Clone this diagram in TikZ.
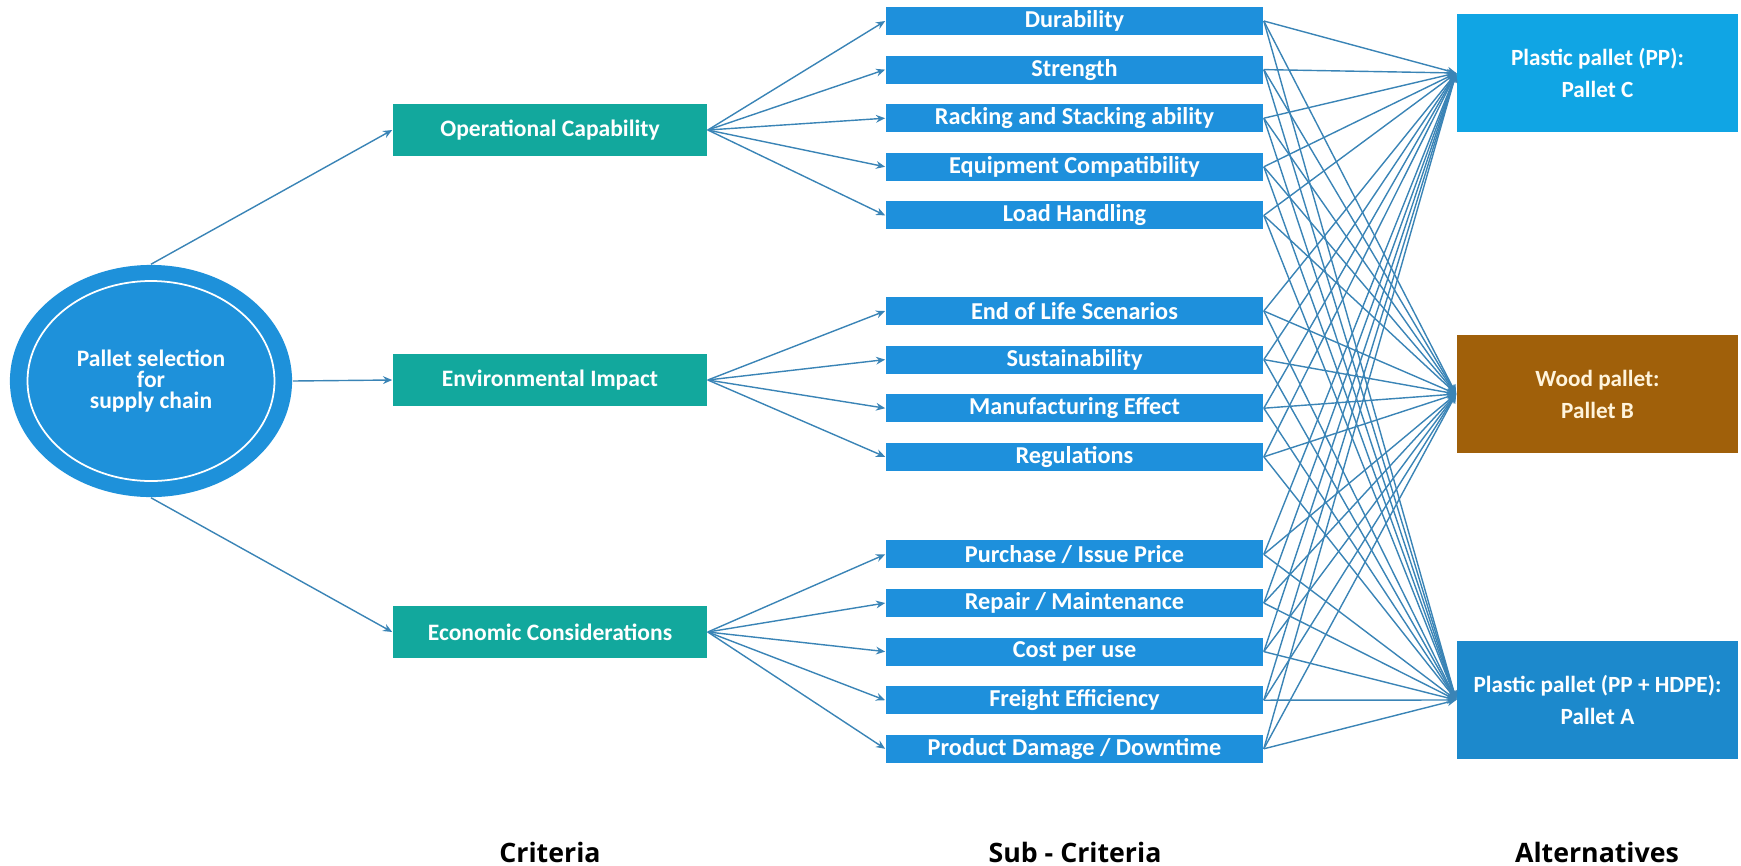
\documentclass[tikz,border=0pt]{standalone}
\usepackage{fontspec}
\setmainfont{Carlito}
\newfontfamily\titlefont{Open Sans}
\definecolor{teal}{HTML}{12A89D}
\definecolor{subblue}{HTML}{1E90DC}
\definecolor{rootblue}{HTML}{1E91DA}
\definecolor{altc}{HTML}{10A5E4}
\definecolor{altb}{HTML}{A0600A}
\definecolor{alta}{HTML}{1C89CC}
\definecolor{wire}{HTML}{3A84B6}
\definecolor{cream}{HTML}{FFF4DC}
\usetikzlibrary{shapes.geometric,arrows.meta}

\begin{document}
\begin{tikzpicture}[x=0.01cm, y=-0.01cm,
  crit/.style={rectangle, fill=teal, text=white, minimum width=3.14cm, minimum height=0.52cm, inner sep=0pt, font={\fontsize{6.7}{7.5}\selectfont\bfseries}},
  sub/.style={rectangle, fill=subblue, text=white, minimum width=3.77cm, minimum height=0.28cm, inner sep=0pt, font={\fontsize{6.9}{7.5}\selectfont\bfseries}},
  alt/.style={rectangle, text=white, minimum width=2.81cm, minimum height=1.18cm, align=center, font={\fontsize{6.6}{9.1}\selectfont\bfseries}},
  coltitle/.style={text=black, font={\titlefont\fontsize{7.6}{9}\selectfont\bfseries}},
  link/.style={draw=wire, line width=0.4pt, -{Stealth[length=2.6pt, width=2.2pt]}},
]
\useasboundingbox (0,0) rectangle (1741,866);
% goal
\node[ellipse, fill=rootblue, minimum width=2.82cm, minimum height=2.32cm, inner sep=0pt] (root) at (151,381) {};
\draw[white, line width=0.5pt] (root.center) ellipse (123.5 and 100);
\node[text=white, align=center, font={\fontsize{6.7}{5.9}\selectfont\bfseries}] at (root.center) {Pallet selection\\for\\supply chain};
% criteria
\node[crit] (op) at (550,130) {Operational Capability};
\node[crit] (env) at (550,380) {Environmental Impact};
\node[crit] (eco) at (550,632) {Economic Considerations};
% sub-criteria
\node[sub] (s1) at (1074.5,21) {Durability};
\node[sub] (s2) at (1074.5,69.6) {Strength};
\node[sub] (s3) at (1074.5,118.2) {Racking and Stacking ability};
\node[sub] (s4) at (1074.5,166.8) {Equipment Compatibility};
\node[sub] (s5) at (1074.5,215.4) {Load Handling};
\node[sub] (s6) at (1074.5,311) {End of Life Scenarios};
\node[sub] (s7) at (1074.5,359.6) {Sustainability};
\node[sub] (s8) at (1074.5,408.2) {Manufacturing Effect};
\node[sub] (s9) at (1074.5,456.8) {Regulations};
\node[sub] (s10) at (1074.5,554.4) {Purchase / Issue Price};
\node[sub] (s11) at (1074.5,603) {Repair / Maintenance};
\node[sub] (s12) at (1074.5,651.6) {Cost per use};
\node[sub] (s13) at (1074.5,700.2) {Freight Efficiency};
\node[sub] (s14) at (1074.5,748.8) {Product Damage / Downtime};
% alternatives
\node[alt, fill=altc] (pc) at (1597.5,73) {Plastic pallet (PP):\\Pallet C};
\node[alt, fill=altb, text=cream] (pb) at (1597.5,394) {Wood pallet:\\Pallet B};
\node[alt, fill=alta] (pa) at (1597.5,700) {Plastic pallet (PP + HDPE):\\Pallet A};
% links
\draw[link] (root.north) -- (op.west);
\draw[link] (root.east) -- (env.west);
\draw[link] (root.south) -- (eco.west);
\foreach \i in {1,...,5} \draw[link] (op.east) -- (s\i.west);
\foreach \i in {6,...,9} \draw[link] (env.east) -- (s\i.west);
\foreach \i in {10,...,14} \draw[link] (eco.east) -- (s\i.west);
\foreach \i in {1,...,14} {
  \foreach \a in {pc,pb,pa} \draw[link] (s\i.east) -- (\a.west);
}
% column titles
\node[coltitle] (tcrit) at (550,852) {Criteria};
\node[coltitle] (tsub) at (1075,852) {Sub - Criteria};
\node[coltitle] (talt) at (1597,852) {Alternatives};
\end{tikzpicture}
\end{document}
